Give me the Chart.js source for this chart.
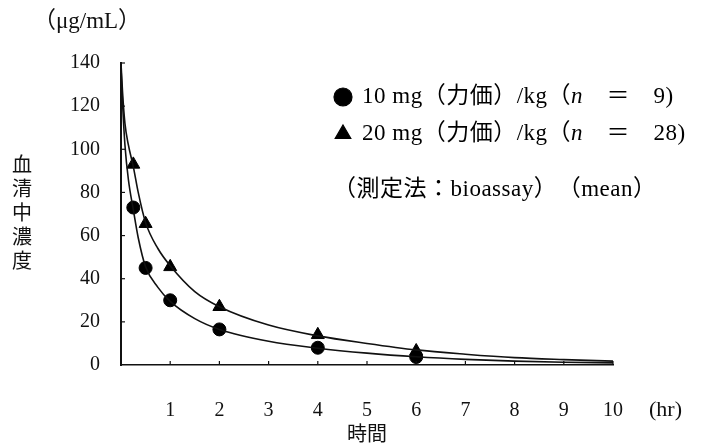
<!DOCTYPE html>
<html>
<head>
<meta charset="utf-8">
<script src="https://cdn.jsdelivr.net/npm/chart.js@4.4.1/dist/chart.umd.min.js"></script>
<style>
html, body { margin: 0; padding: 0; background: #fff; }
#wrap { position: relative; width: 719px; height: 446px; }
</style>
</head>
<body>
<div id="wrap"><canvas id="pkChart" width="719" height="446"></canvas></div>
<script>
// 測定時点 (hr) と平均血清中濃度 (μg/mL)
const sampleTimes = [0.25, 0.5, 1, 2, 4, 6];
const conc10mg = [73, 45, 30, 16.5, 8, 3.7];
const conc20mg = [93, 65.5, 45.5, 27, 14, 6.5];

// 近似曲線
const curveTimes = [0, 0.03, 0.08, 0.15, 0.25, 0.35, 0.5, 0.75, 1, 1.5, 2, 3, 4, 5, 6, 7, 8, 9, 10];
const curve10mg = [138, 122, 102, 86, 72, 59, 45.5, 36, 29.5, 21.5, 16.5, 11, 7.8, 5.5, 3.8, 2.6, 1.8, 1.3, 1];
const curve20mg = [140, 127, 112, 102, 92, 80, 66, 54, 46, 34, 27, 18.5, 13.5, 10, 7, 5, 3.4, 2.5, 1.8];

const seriesLabels = ['10 mg（力価）/kg（n　＝　9)', '20 mg（力価）/kg（n　＝　28)'];
const methodNote = '（測定法：bioassay）　（mean）';
const xTicks = [1, 2, 3, 4, 5, 6, 7, 8, 9, 10];
const yTicks = [0, 20, 40, 60, 80, 100, 120, 140];

const serifFont = '"Liberation Serif", "Noto Sans CJK JP", serif';
const toXY = (xs, ys) => xs.map((x, i) => ({ x: x, y: ys[i] }));

// 軸の内向き目盛りと注記
const decorPlugin = {
    id: 'decor',
    afterDraw(chart) {
        const ctx = chart.ctx;
        const xs = chart.scales.x;
        const ys = chart.scales.y;
        const area = chart.chartArea;
        ctx.save();
        ctx.strokeStyle = '#111';
        ctx.lineWidth = 1.2;
        yTicks.forEach((v) => {
            if (v === 0) return;
            const py = ys.getPixelForValue(v);
            ctx.beginPath();
            ctx.moveTo(area.left, py);
            ctx.lineTo(area.left + 4, py);
            ctx.stroke();
        });
        xTicks.forEach((v) => {
            const px = xs.getPixelForValue(v);
            ctx.beginPath();
            ctx.moveTo(px, area.bottom);
            ctx.lineTo(px, area.bottom - 4);
            ctx.stroke();
        });

        ctx.fillStyle = '#111';
        ctx.textBaseline = 'middle';
        ctx.textAlign = 'center';
        ctx.font = '23px ' + serifFont;
        ctx.fillText('（μg/mL）', 87, 22);
        ctx.textAlign = 'left';
        ctx.font = '22px ' + serifFont;
        ctx.fillText('(hr)', 649, 410);

        ctx.font = '20px "Noto Sans CJK JP", sans-serif';
        ctx.textAlign = 'center';
        '血清中濃度'.split('').forEach((ch, i) => {
            ctx.fillText(ch, 22, 164 + i * 24);
        });

        // 凡例
        ctx.letterSpacing = '0.5px';
        const markers = chart.data.datasets.filter((d) => d.showLine === false);
        markers.forEach((ds, i) => {
            const y = 97 + i * 37;
            ctx.fillStyle = '#000';
            ctx.strokeStyle = '#000';
            Chart.helpers.drawPoint(ctx, { pointStyle: ds.pointStyle, radius: 9, borderWidth: 1 }, 343, y);
            const label = ds.label;
            const k = label.indexOf('（n') + 1;
            let x = 362;
            ctx.textAlign = 'left';
            const parts = [[label.slice(0, k), false], [label[k], true], [label.slice(k + 1), false]];
            parts.forEach(([t, it]) => {
                ctx.font = (it ? 'italic ' : '') + '23px ' + serifFont;
                ctx.fillText(t, x, y);
                x += ctx.measureText(t).width;
            });
        });
        ctx.font = '23px ' + serifFont;
        ctx.fillText(methodNote, 333, 190);
        ctx.restore();
    }
};

const chart = new Chart(document.getElementById('pkChart').getContext('2d'), {
    type: 'line',
    data: {
        datasets: [
            {
                label: 'curve10',
                data: toXY(curveTimes, curve10mg),
                borderColor: '#111',
                borderWidth: 1.6,
                pointRadius: 0,
                cubicInterpolationMode: 'monotone',
                fill: false
            },
            {
                label: 'curve20',
                data: toXY(curveTimes, curve20mg),
                borderColor: '#111',
                borderWidth: 1.6,
                pointRadius: 0,
                cubicInterpolationMode: 'monotone',
                fill: false
            },
            {
                label: seriesLabels[0],
                data: toXY(sampleTimes, conc10mg),
                showLine: false,
                pointStyle: 'circle',
                pointRadius: 6.5,
                backgroundColor: '#000',
                borderColor: '#000'
            },
            {
                label: seriesLabels[1],
                data: toXY(sampleTimes, conc20mg),
                showLine: false,
                pointStyle: 'triangle',
                pointRadius: 7.5,
                backgroundColor: '#000',
                borderColor: '#000'
            }
        ]
    },
    options: {
        responsive: false,
        animation: false,
        layout: { padding: { left: 0, top: 63, right: 106, bottom: 0 } },
        plugins: {
            legend: { display: false },
            tooltip: { enabled: false }
        },
        scales: {
            x: {
                type: 'linear',
                min: 0,
                max: 10,
                afterBuildTicks: (s) => { s.ticks = xTicks.map((v) => ({ value: v })); },
                afterFit: (s) => { s.height = 81; },
                grid: { display: false },
                border: { display: true, color: '#111', width: 1.5 },
                ticks: { color: '#111', padding: 26, maxRotation: 0, font: { family: serifFont, size: 20 } },
                title: {
                    display: true,
                    text: '時間',
                    color: '#111',
                    padding: { top: 0, bottom: 0 },
                    font: { family: '"Noto Sans CJK JP", sans-serif', size: 20, lineHeight: 1.3 }
                }
            },
            y: {
                min: 0,
                max: 140,
                afterBuildTicks: (s) => { s.ticks = yTicks.map((v) => ({ value: v })); },
                afterFit: (s) => { s.width = 121; },
                grid: { display: false },
                border: { display: true, color: '#111', width: 2 },
                ticks: { color: '#111', padding: 13, font: { family: serifFont, size: 20 } }
            }
        }
    },
    plugins: [decorPlugin]
});
</script>
</body>
</html>
